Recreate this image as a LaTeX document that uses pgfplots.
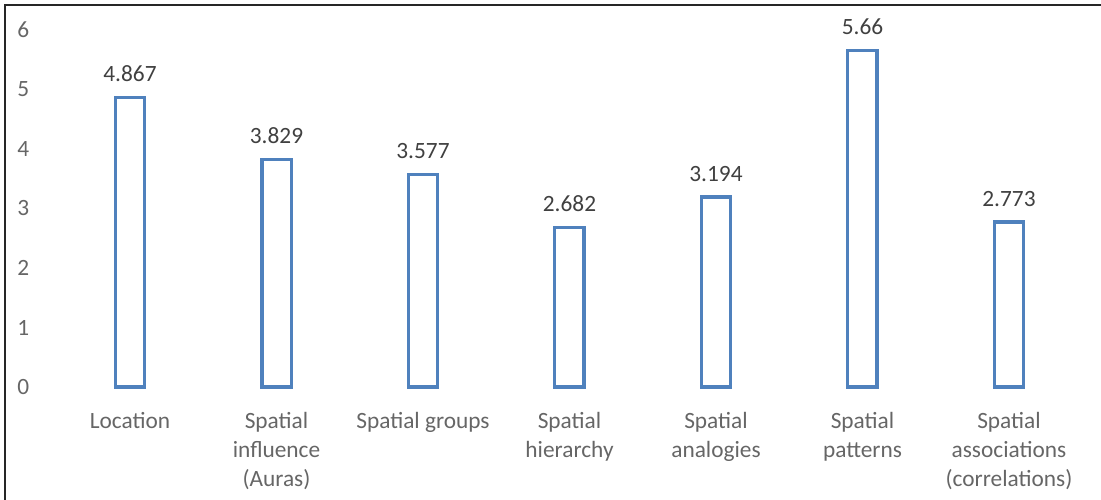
\documentclass[border=0pt]{standalone}
\usepackage{pgfplots}
\pgfplotsset{compat=1.18}
\usepackage{fontspec}
\setmainfont{Carlito}
\definecolor{barblue}{HTML}{4F81BD}
\definecolor{txtgray}{HTML}{666666}
\definecolor{lblgray}{HTML}{404040}
\begin{document}
\begin{tikzpicture}
\useasboundingbox (0,0) rectangle (825.75pt,375pt);
\draw[line width=1.5pt,black!85] (3.75pt,0) -- (3.75pt,371.25pt) -- (825.75pt,371.25pt);
\begin{axis}[
  at={(31.575pt,84.75pt)}, anchor=south west,
  scale only axis,
  width=791.1pt, height=267.75pt,
  xmin=-0.6, xmax=6.6, ymin=0, ymax=6,
  axis line style={draw=none},
  tick style={draw=none},
  clip=false,
  ytick={0,1,...,6},
  xtick={0,...,6},
  xticklabels={Location,{Spatial\\influence\\(Auras)},Spatial groups,{Spatial\\hierarchy},{Spatial\\analogies},{Spatial\\patterns},{Spatial\\associations\\(correlations)}},
  xticklabel style={align=center, font=\fontsize{17.5}{22}\selectfont, text=txtgray, anchor=north, yshift=-11pt},
  yticklabel style={font=\fontsize{17.5}{20}\selectfont, text=txtgray, anchor=west, xshift=-22pt},
  /pgf/number format/assume math mode=true,
  ybar, bar width=22pt,
  nodes near coords,
  nodes near coords style={font=\fontsize{17.5}{20}\selectfont, text=lblgray, yshift=7pt},
  point meta=explicit symbolic,
]
\addplot[draw=barblue, line width=2.5pt, fill=white] coordinates {
  (0,4.867) [4.867]
  (1,3.829) [3.829]
  (2,3.577) [3.577]
  (3,2.682) [2.682]
  (4,3.194) [3.194]
  (5,5.66) [5.66]
  (6,2.773) [2.773]
};
\end{axis}
\end{tikzpicture}
\end{document}
